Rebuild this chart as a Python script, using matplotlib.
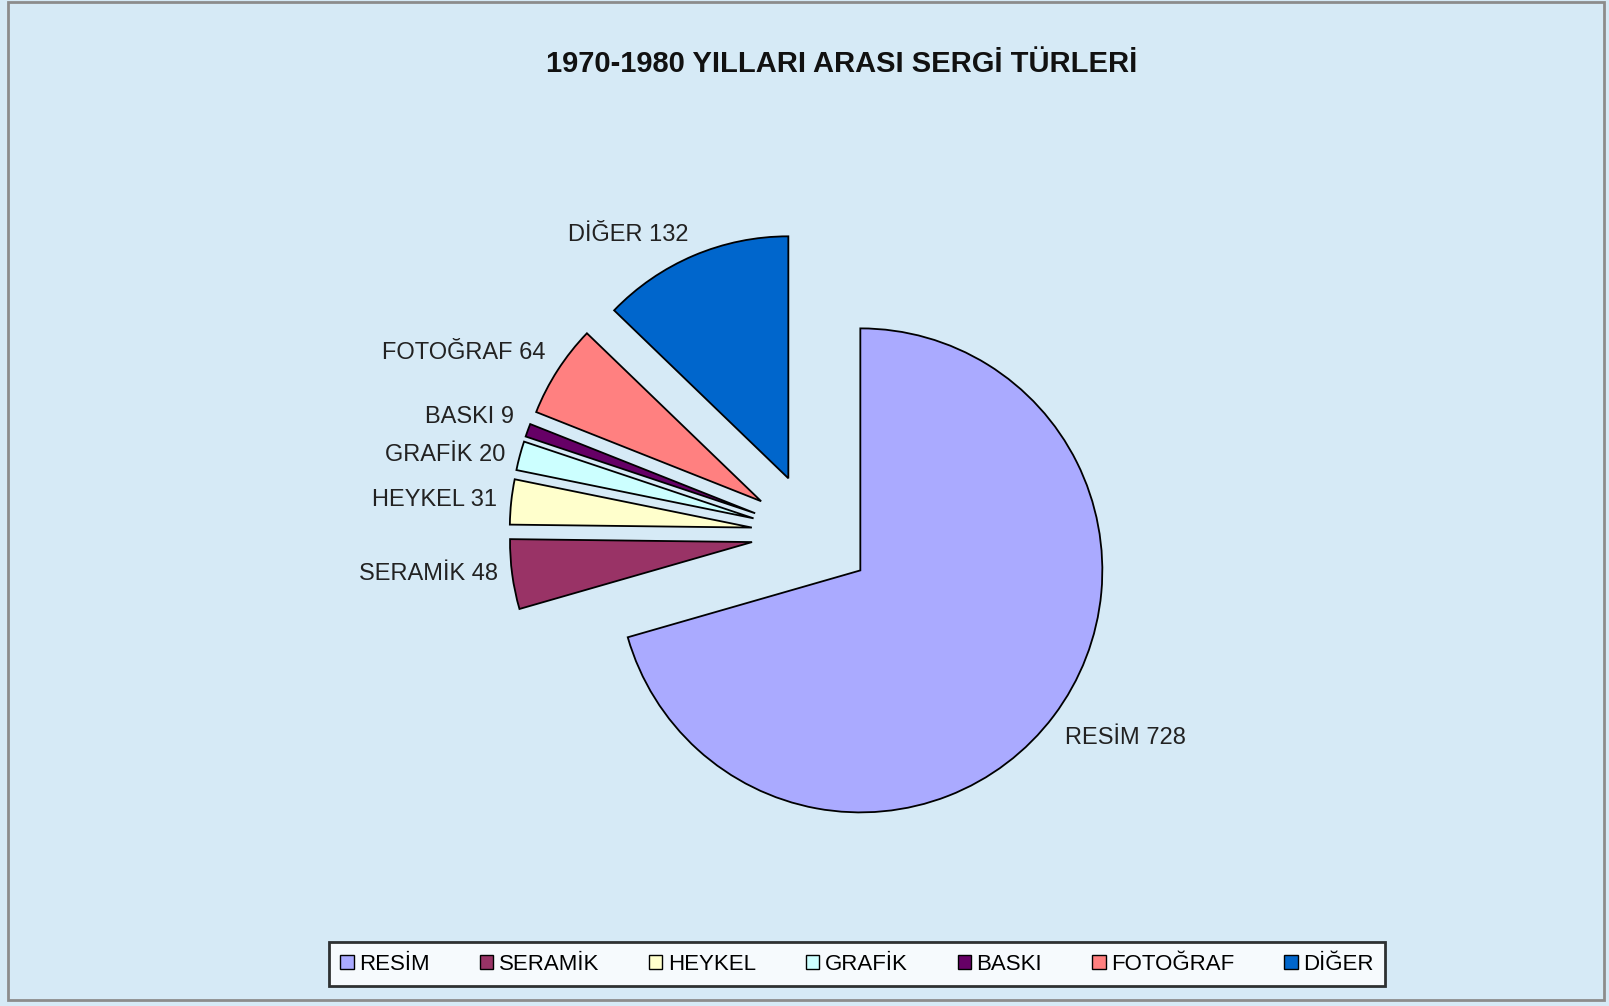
import matplotlib
matplotlib.use("Agg")
import matplotlib.pyplot as plt
from matplotlib.patches import Rectangle

categories = ["RESİM", "SERAMİK", "HEYKEL", "GRAFİK", "BASKI", "FOTOĞRAF", "DİĞER"]
values = [728, 48, 31, 20, 9, 64, 132]
colors = ["#aaaaff", "#993366", "#ffffcc", "#ccffff", "#660066", "#ff8080", "#0066cc"]
title = "1970-1980 YILLARI ARASI SERGİ TÜRLERİ"

W, H = 1609, 1006
bg = "#d6eaf6"
fig = plt.figure(figsize=(W / 100, H / 100), dpi=100, facecolor=bg)

# figure border
fig.patches.append(Rectangle((8 / W, 1 - 1000 / H), (1604 - 8) / W, (1000 - 2) / H,
                             transform=fig.transFigure, fill=False,
                             edgecolor="#8c8c8c", lw=2.0))

# axes mapped so that pie center sits at pixel (812, 534), radius 242 px
cx, cy, r = 812, 534, 242
ax = fig.add_axes([0, 0, 1, 1])
ax.set_facecolor("none")

labels = [f"{c} {v}" for c, v in zip(categories, values)]
wedges, texts = ax.pie(values, colors=colors, startangle=90, counterclock=False,
                       explode=[0.25] * len(values), radius=1.0,
                       labels=labels, labeldistance=1.06,
                       wedgeprops=dict(edgecolor="black", linewidth=1.3),
                       textprops=dict(fontsize=17, family=["Liberation Sans", "DejaVu Sans"],
                                      color="#222222"))
# small vertical nudges (pixels, + = up) to mimic the original label placement
nudges = [-13, 2, 0, -3, 8, 9, 7]
for t, dy in zip(texts, nudges):
    t.set_va("center")
    x, y = t.get_position()
    t.set_position((x, y + dy / r))

ax.set_aspect("auto")
ax.set_xlim(-cx / r, (W - cx) / r)
ax.set_ylim(-(H - cy) / r, cy / r)
ax.axis("off")

fig.text(0.523, 1 - 64 / H, title, ha="center", va="center", fontsize=21,
         fontweight="bold", family=["Liberation Sans", "DejaVu Sans"],
         color="#111111")

leg = fig.legend(wedges, categories, loc="center", bbox_to_anchor=(857 / W, 1 - 964 / H),
                 ncol=7, frameon=True, fancybox=False, handlelength=0.6, handleheight=0.6,
                 handletextpad=0.25, columnspacing=2.25, borderpad=0.5,
                 prop=dict(family=["Liberation Sans", "DejaVu Sans"], size=16))
leg.get_frame().set_edgecolor("black")
leg.get_frame().set_linewidth(2.0)
leg.get_frame().set_facecolor("white")
for h in leg.legend_handles:
    h.set_linewidth(1.0)

fig.savefig("out.png", dpi=100, facecolor=bg)
